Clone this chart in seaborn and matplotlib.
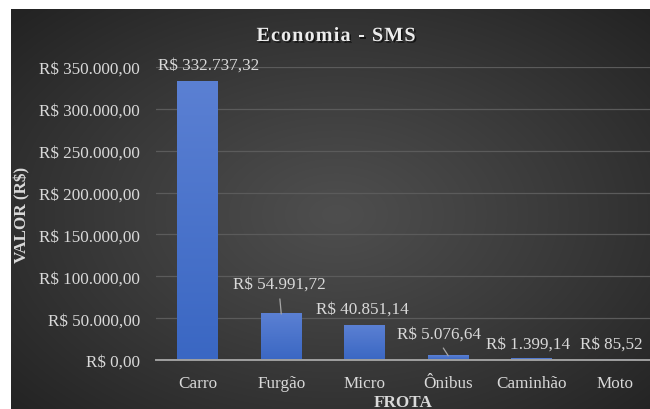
import numpy as np
import matplotlib
matplotlib.use("Agg")
import matplotlib.pyplot as plt
import matplotlib.patheffects as pe
from matplotlib.colors import LinearSegmentedColormap
import pandas as pd
import seaborn as sns

# ---------------- data ----------------
categories = ["Carro", "Furgão", "Micro", "Ônibus", "Caminhão", "Moto"]
values = [332737.32, 54991.72, 40851.14, 5076.64, 1399.14, 85.52]
y_ticks = [0, 50000, 100000, 150000, 200000, 250000, 300000, 350000]
title = "Economia - SMS"
x_title = "FROTA"
y_title = "VALOR (R$)"

# ---------------- layout / style ----------------
W, H = 650, 410
TXT = "#d9d9d9"
plt.rcParams["font.family"] = ["Liberation Serif", "DejaVu Serif"]
# label offsets (pixels) relative to the bar top, and which labels have leader lines
label_offsets = [(11, 17), (-2, 30), (-2, 17), (-9, 22), (-4, 15), (-4, 16)]
leaders = [False, True, False, True, False, False]


def brl(v):
    s = f"{v:,.2f}"
    s = s.replace(",", "X").replace(".", ",").replace("X", ".")
    return "R$ " + s


fig = plt.figure(figsize=(W / 100, H / 100), dpi=100, facecolor="white")

# radial dark background (chart area, cropped at right/bottom)
bg = fig.add_axes([11 / W, 0, 1 - 11 / W, 1 - 10 / H])
bg.axis("off")
bh, bw = 400, 639
yy, xx = np.mgrid[0:bh, 0:bw]
dx = (xx - 325) / 330.0
dy = (yy - 205) / 215.0
r = np.clip(np.sqrt(dx ** 2 + dy ** 2) / 1.35, 0, 1) ** 1.1
c0 = np.array([0x4e, 0x4e, 0x4e]) / 255.0
c1 = np.array([0x23, 0x23, 0x23]) / 255.0
img = c0[None, None, :] + (c1 - c0)[None, None, :] * r[:, :, None]
bg.imshow(img, aspect="auto", extent=[0, 1, 0, 1], interpolation="bilinear")
bg.set_xlim(0, 1)
bg.set_ylim(0, 1)

# main axes
ax = fig.add_axes([156 / W, 1 - 361 / H, 501 / W, 293 / H])
ax.set_facecolor("none")
df = pd.DataFrame({"Frota": categories, "Valor": values})
sns.barplot(data=df, x="Frota", y="Valor", color="#4472c4", width=0.49,
            saturation=1, ax=ax, zorder=2)

# gradient fill for bars
bar_cmap = LinearSegmentedColormap.from_list("barg", ["#3a67c3", "#5b80d3"])
grad = np.linspace(0, 1, 256).reshape(-1, 1)
for p in ax.patches:
    x0, w, h = p.get_x(), p.get_width(), p.get_height()
    ax.imshow(grad, cmap=bar_cmap, extent=[x0, x0 + w, 0, h], aspect="auto",
              origin="lower", zorder=2.1, interpolation="bilinear")

ax.set_xlim(-0.5, len(categories) - 0.5)
ax.set_ylim(0, 350000)
ax.set_aspect("auto")

ax.set_yticks(y_ticks)
ax.set_yticklabels([brl(v) for v in y_ticks])
ax.yaxis.grid(True, color="#5b5b5b", lw=0.9)
ax.xaxis.grid(False)
ax.set_axisbelow(True)
for s in ["top", "left", "right"]:
    ax.spines[s].set_visible(False)
ax.spines["bottom"].set_color("#a0a0a0")
ax.spines["bottom"].set_linewidth(1.4)
ax.spines["bottom"].set_zorder(3)
ax.tick_params(axis="both", length=0, colors=TXT, labelsize=12.3)
ax.tick_params(axis="y", pad=11.5)
ax.tick_params(axis="x", pad=11.0)

ax.set_ylabel(y_title, fontsize=12.3, fontweight="bold", color=TXT, va="center")
ax.yaxis.set_label_coords((22 - 156) / 501, 0.5)
ax.set_xlabel(x_title, fontsize=12.3, fontweight="bold", color=TXT, va="top")
ax.xaxis.set_label_coords((403 - 156) / 501, (361 - 395) / 293)

# data labels
for p, v, off, lead in zip(ax.patches, values, label_offsets, leaders):
    xc = p.get_x() + p.get_width() / 2
    kw = dict(xy=(xc, p.get_height()), xytext=off, textcoords="offset pixels",
              ha="center", va="center", fontsize=12.3, color=TXT, zorder=4)
    if lead:
        kw["arrowprops"] = dict(arrowstyle="-", color="#a6a6a6", lw=0.9,
                                shrinkA=3, shrinkB=0, relpos=(0.5, 0))
    ax.annotate(brl(v), **kw)

# title with letter spacing and shadow
rend = fig.canvas.get_renderer()
tkw = dict(fontsize=14.5, fontweight="bold", color="#ececec")


def tw(s):
    t = fig.text(0, 0, s, **tkw)
    wd = t.get_window_extent(rend).width
    t.remove()
    return wd


target_w = 159.0
natural = tw(title)
spacing = (target_w - natural) / (len(title) - 1)
wI = tw("I")
x_start = 336 - target_w / 2
base_y = 1 - 42 / H
for i, ch in enumerate(title):
    if ch == " ":
        continue
    left = 0 if i == 0 else tw(title[:i] + "I") - wI
    fig.text((x_start + left + i * spacing) / W, base_y, ch, ha="left",
             va="baseline", **tkw,
             path_effects=[pe.SimplePatchShadow(offset=(1.2, -1.2),
                                                shadow_rgbFace="black", alpha=0.6),
                           pe.Normal()])

fig.savefig("out.png", dpi=100, facecolor="white")
